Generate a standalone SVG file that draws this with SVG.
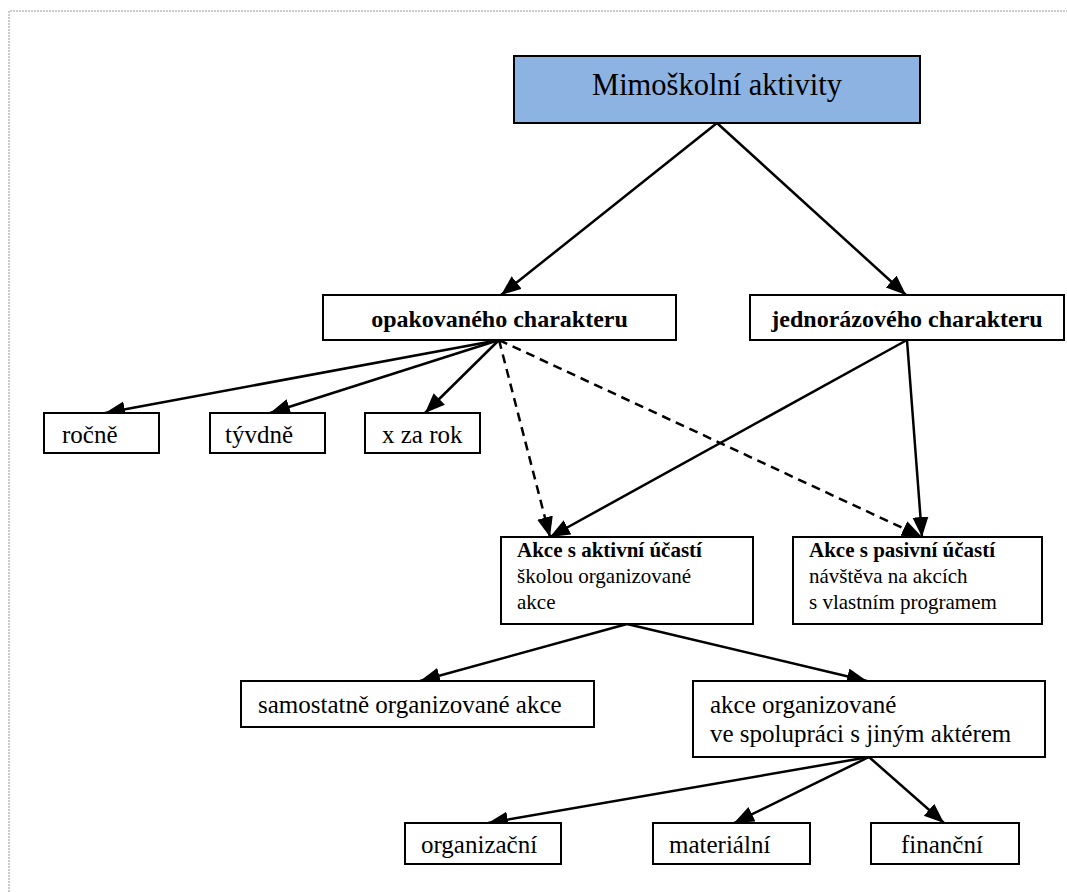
<svg xmlns="http://www.w3.org/2000/svg" width="1067" height="892" viewBox="0 0 1067 892">
<defs>
<marker id="ah" markerUnits="userSpaceOnUse" markerWidth="22" markerHeight="18" refX="20" refY="8" orient="auto">
<path d="M0,0 L20,8 L0,16 z" fill="#000"/>
</marker>
<style>
.box{fill:#fff;stroke:#000;stroke-width:2}
.top{fill:#8db3e2;stroke:#000;stroke-width:2}
.t{font-family:"Liberation Serif","Times New Roman",serif;fill:#000}
.l{font-size:25px}
.b{font-size:24px;font-weight:bold}
.s{font-size:21px}
.sb{font-size:21px;font-weight:bold}
.c{stroke:#000;stroke-width:2.5;fill:none;marker-end:url(#ah)}
.d{stroke-dasharray:9 6}
.frame{stroke:#999;stroke-width:1;stroke-dasharray:2 1;fill:none}
</style>
</defs>
<rect width="1067" height="892" fill="#fff"/>
<path class="frame" d="M9,892 L9,11 L1067,11"/>

<g id="connectors">
<line class="c" x1="717" y1="123" x2="501" y2="295"/>
<line class="c" x1="717" y1="123" x2="906" y2="295"/>
<line class="c" x1="499" y1="340" x2="105" y2="413"/>
<line class="c" x1="499" y1="340" x2="270" y2="413"/>
<line class="c" x1="499" y1="340" x2="425" y2="413"/>
<line class="c d" x1="499" y1="340" x2="550" y2="537"/>
<line class="c d" x1="499" y1="340" x2="922" y2="537"/>
<line class="c" x1="907" y1="340" x2="550" y2="537"/>
<line class="c" x1="907" y1="340" x2="922" y2="537"/>
<line class="c" x1="627" y1="624" x2="420" y2="681"/>
<line class="c" x1="627" y1="624" x2="867" y2="681"/>
<line class="c" x1="869" y1="757" x2="488" y2="823"/>
<line class="c" x1="869" y1="757" x2="734" y2="823"/>
<line class="c" x1="869" y1="757" x2="944" y2="823"/>
</g>

<g id="n-root">
<rect class="top" x="514" y="56" width="406" height="67"/>
<text class="t" x="717" y="95" font-size="30.5" text-anchor="middle">Mimoškolní aktivity</text>
</g>
<g id="n-opak">
<rect class="box" x="323" y="295" width="353" height="45"/>
<text class="t b" x="499.5" y="327" text-anchor="middle">opakovaného charakteru</text>
</g>
<g id="n-jedn">
<rect class="box" x="750" y="295" width="314" height="45"/>
<text class="t b" x="907" y="327" text-anchor="middle">jednorázového charakteru</text>
</g>
<g id="n-rocne">
<rect class="box" x="44" y="413" width="115" height="40"/>
<text class="t l" x="62" y="443">ročně</text>
</g>
<g id="n-tydne">
<rect class="box" x="210" y="413" width="115" height="40"/>
<text class="t l" x="225" y="443">tývdně</text>
</g>
<g id="n-xzarok">
<rect class="box" x="365" y="413" width="115" height="40"/>
<text class="t l" x="382" y="443">x za rok</text>
</g>
<g id="n-aktivni">
<rect class="box" x="501" y="537" width="252" height="87"/>
<text class="t" x="517" y="557"><tspan class="sb">Akce s aktivní účastí</tspan><tspan class="s" x="517" y="583">školou organizované</tspan><tspan class="s" x="517" y="609">akce</tspan></text>
</g>
<g id="n-pasivni">
<rect class="box" x="793" y="537" width="249" height="87"/>
<text class="t" x="809" y="557"><tspan class="sb">Akce s pasivní účastí</tspan><tspan class="s" x="809" y="583">návštěva na akcích</tspan><tspan class="s" x="809" y="609">s vlastním programem</tspan></text>
</g>
<g id="n-samostatne">
<rect class="box" x="241" y="681" width="353" height="46"/>
<text class="t l" x="258" y="713">samostatně organizované akce</text>
</g>
<g id="n-spoluprace">
<rect class="box" x="693" y="681" width="352" height="76"/>
<text class="t l" x="710" y="713">akce organizované<tspan x="710" y="742">ve spolupráci s jiným aktérem</tspan></text>
</g>
<g id="n-organizacni">
<rect class="box" x="405" y="823" width="156" height="41"/>
<text class="t l" x="421" y="853">organizační</text>
</g>
<g id="n-materialni">
<rect class="box" x="653" y="823" width="157" height="41"/>
<text class="t l" x="669" y="853">materiální</text>
</g>
<g id="n-financni">
<rect class="box" x="871" y="823" width="148" height="41"/>
<text class="t l" x="901" y="853">finanční</text>
</g>
</svg>
